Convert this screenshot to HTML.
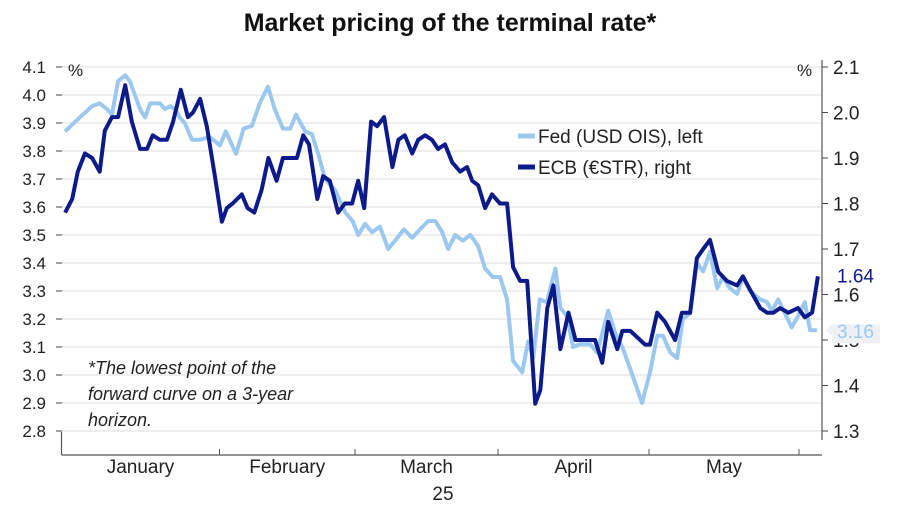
<!DOCTYPE html>
<html><head><meta charset="utf-8"><style>
body{margin:0;background:#fff;width:900px;height:510px;overflow:hidden;font-family:"Liberation Sans",sans-serif}
</style></head><body>
<svg id="chart" width="900" height="510" viewBox="0 0 900 510" xmlns="http://www.w3.org/2000/svg" font-family="Liberation Sans, sans-serif">
<text x="450" y="31" text-anchor="middle" font-size="25" font-weight="bold" fill="#111">Market pricing of the terminal rate*</text>
<g id="grid"></g><g id="axes"></g><g id="series"></g>
<g>
<line x1="518" y1="136" x2="535" y2="136" stroke="#9cc8f0" stroke-width="5"/>
<text x="538" y="143" font-size="19" fill="#222">Fed (USD OIS), left</text>
<line x1="518" y1="167" x2="535" y2="167" stroke="#0d1a8a" stroke-width="5"/>
<text x="538" y="174" font-size="19" fill="#222">ECB (€STR), right</text>
</g>
<g font-size="18" font-style="italic" fill="#222">
<text x="88" y="374">*The lowest point of the</text>
<text x="88" y="400">forward curve on a 3-year</text>
<text x="88" y="426">horizon.</text>
</g>
<text x="68" y="76" font-size="17" fill="#222">%</text>
<text x="797" y="76" font-size="17" fill="#222">%</text>
<text x="443" y="500" text-anchor="middle" font-size="19" fill="#222">25</text>
</svg>
<script>
const leftTicks=[4.1,4.0,3.9,3.8,3.7,3.6,3.5,3.4,3.3,3.2,3.1,3.0,2.9,2.8];
const rightTicks=[2.1,2.0,1.9,1.8,1.7,1.6,1.5,1.4,1.3];
const months=["January","February","March","April","May"];
const monthStartDays=[0,31,59,90,120,151];
const fedDays=[0.7,3.6,6.0,7.5,8.9,9.9,11.1,12.5,13.4,14.4,15.4,16.4,17.4,19.3,20.3,21.3,22.3,23.2,24.2,25.6,27.2,29.1,31.1,32.3,34.4,36.0,37.7,39.3,41.0,42.4,44.1,45.6,46.8,48.7,50.1,51.4,52.8,54.9,57.0,58.5,59.7,61.2,62.7,64.4,66.2,67.7,69.6,71.4,73.1,74.9,76.4,77.9,79.2,80.7,82.4,84.0,85.7,87.2,88.9,90.4,91.8,93.0,94.8,96.0,97.0,98.3,99.7,101.4,102.4,103.7,104.9,106.3,108.3,109.7,111.9,113.3,114.7,116.9,118.6,120.2,121.7,122.9,124.4,125.8,127.0,128.5,129.9,131.2,132.6,134.1,135.3,136.7,138.2,139.4,140.9,143.0,144.4,145.4,146.7,148.1,149.5,150.8,152.2,153.3,154.7];
const fedValues=[3.87,3.92,3.96,3.97,3.95,3.93,4.05,4.07,4.05,4.0,3.95,3.92,3.97,3.97,3.95,3.96,3.95,3.92,3.90,3.84,3.84,3.85,3.82,3.87,3.79,3.88,3.89,3.97,4.03,3.95,3.88,3.88,3.93,3.87,3.86,3.79,3.70,3.66,3.58,3.55,3.50,3.54,3.51,3.53,3.45,3.48,3.52,3.49,3.52,3.55,3.55,3.51,3.45,3.50,3.48,3.50,3.46,3.38,3.35,3.35,3.27,3.05,3.01,3.12,3.06,3.27,3.26,3.38,3.24,3.21,3.10,3.11,3.11,3.08,3.23,3.15,3.10,2.99,2.90,3.01,3.14,3.14,3.08,3.06,3.20,3.22,3.40,3.37,3.44,3.31,3.35,3.31,3.29,3.35,3.30,3.27,3.26,3.23,3.27,3.22,3.17,3.21,3.26,3.16,3.16];
const ecbDays=[0.7,2.1,3.2,4.6,6.0,7.5,8.5,9.9,11.1,12.5,13.8,15.4,16.8,17.9,19.3,20.7,21.9,23.4,24.8,25.8,27.2,28.5,30.1,31.5,32.5,33.7,35.6,36.8,38.2,39.7,41.1,42.8,44.1,45.6,47.0,48.3,49.5,51.2,52.4,53.8,55.5,56.9,58.4,59.7,61.0,62.5,63.8,65.3,67.1,68.4,69.8,71.4,72.7,74.2,75.7,77.0,78.5,80.1,81.8,83.3,84.4,85.7,87.2,88.7,90.4,91.8,93.0,94.4,95.8,97.4,98.4,99.8,101.0,102.4,104.0,105.4,107.7,109.3,110.7,111.9,113.7,114.7,116.3,119.2,120.2,121.7,123.3,125.4,126.8,128.5,129.9,131.2,132.6,134.3,136.1,138.2,139.4,140.9,143.0,144.4,145.7,147.1,148.8,150.8,152.2,153.7,154.9];
const ecbValues=[1.78,1.81,1.87,1.91,1.90,1.87,1.96,1.99,1.99,2.06,1.98,1.92,1.92,1.95,1.94,1.94,1.98,2.05,1.99,2.0,2.03,1.97,1.86,1.76,1.79,1.80,1.82,1.79,1.78,1.83,1.90,1.85,1.90,1.90,1.90,1.95,1.93,1.81,1.86,1.85,1.78,1.80,1.80,1.85,1.79,1.98,1.97,1.99,1.88,1.94,1.95,1.91,1.94,1.95,1.94,1.92,1.93,1.89,1.87,1.88,1.85,1.84,1.79,1.82,1.80,1.80,1.66,1.63,1.63,1.36,1.39,1.57,1.62,1.48,1.56,1.50,1.50,1.50,1.45,1.54,1.48,1.52,1.52,1.49,1.49,1.56,1.54,1.50,1.56,1.56,1.68,1.70,1.72,1.65,1.63,1.62,1.64,1.61,1.57,1.56,1.56,1.57,1.56,1.57,1.55,1.56,1.64];

const NS="http://www.w3.org/2000/svg";
const PX=[61.5,219.5,355,498,649,799];
function xScale(d){
  let i=0; while(i<4 && d>=monthStartDays[i+1]) i++;
  return PX[i]+(d-monthStartDays[i])/(monthStartDays[i+1]-monthStartDays[i])*(PX[i+1]-PX[i]);
}
function yLeft(v){return 67+(4.1-v)/1.3*364;}
function yRight(v){return 67+(2.1-v)/0.8*364;}
function mk(tag,attrs,parent){const e=document.createElementNS(NS,tag);for(const k in attrs)e.setAttribute(k,attrs[k]);parent.appendChild(e);return e;}
const grid=document.getElementById('grid'),axes=document.getElementById('axes'),series=document.getElementById('series');
leftTicks.forEach(t=>{
  const y=yLeft(t);
  const l=mk('line',{x1:62,x2:822,y1:y,y2:y,stroke:'#e4e4e4','stroke-width':1.2},grid);
  
  
  const tx=mk('text',{x:46,y:y+6,'text-anchor':'end','font-size':17,fill:'#222'},axes);
  tx.textContent=t.toFixed(1);
  
  
  mk('line',{x1:56,x2:62,y1:y,y2:y,stroke:'#444','stroke-width':1},axes);
});
rightTicks.forEach(t=>{
  const y=yRight(t);
  mk('line',{x1:822,x2:828,y1:y,y2:y,stroke:'#444','stroke-width':1},axes);
  const tx=mk('text',{x:833,y:y+7,'font-size':19,fill:'#222'},axes);
  tx.textContent=t.toFixed(1);
  
  
});
mk('line',{x1:822,x2:822,y1:60,y2:440,stroke:'#555','stroke-width':1.2},axes);
mk('line',{x1:61.5,x2:61.5,y1:432,y2:455,stroke:'#555','stroke-width':1.2},axes);
mk('line',{x1:61.5,x2:822,y1:455,y2:455,stroke:'#555','stroke-width':1.2},axes);
monthStartDays.forEach((d,i)=>{
  const x=xScale(d);
  mk('line',{x1:x,x2:x,y1:449,y2:455,stroke:'#555','stroke-width':1},axes);
  if(i<months.length){
    const tx=mk('text',{x:(xScale(d)+xScale(monthStartDays[i+1]))/2,y:473,'text-anchor':'middle','font-size':19,fill:'#222'},axes);
    tx.textContent=months[i];
    
    
  }
});
function path(days,vals,ys){return days.map((d,i)=>(i?'L':'M')+xScale(d).toFixed(1)+','+ys(vals[i]).toFixed(1)).join('');}
const fed=mk('path',{d:path(fedDays,fedValues,yLeft),fill:'none',stroke:'#9cc8f0','stroke-width':4,'stroke-linejoin':'round'},series);


const ecb=mk('path',{d:path(ecbDays,ecbValues,yRight),fill:'none',stroke:'#0d1a8a','stroke-width':4,'stroke-linejoin':'round'},series);


// end labels
const fl=fedValues[fedValues.length-1], el=ecbValues[ecbValues.length-1];
const fy=yLeft(fl), ey=yRight(el);
mk('path',{d:`M826,${fy} L832,${fy-6} L880,${fy-6} L880,${fy+13} L832,${fy+13} L832,${fy+6} Z`,fill:'#eef1f4'},series);
const ft=mk('text',{x:837,y:fy+8,'font-size':19,fill:'#9cc8f0'},series);
ft.textContent=fl.toFixed(2);


mk('rect',{x:832,y:ey-11,width:46,height:20,fill:'#fff'},series);
const et=mk('text',{x:837,y:ey+6,'font-size':19,fill:'#0d1a8a'},series);
et.textContent=el.toFixed(2);


</script>
</body></html>
